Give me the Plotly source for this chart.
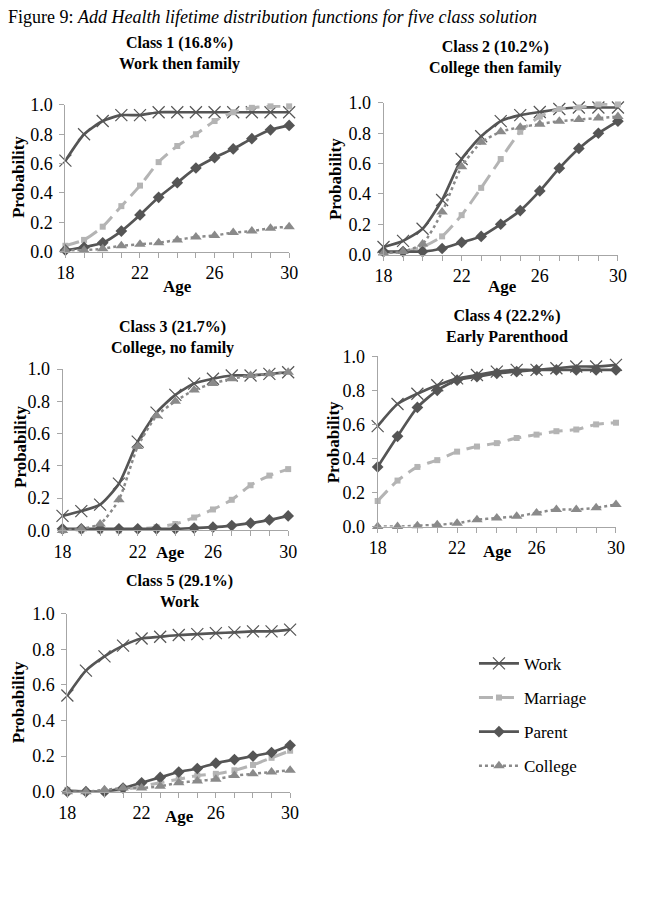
import plotly.graph_objects as go

W, H = 660, 921

ages = list(range(18, 31))
series_names = ["Work", "Marriage", "Parent", "College"]

# Class 1
c1_work = [0.62, 0.80, 0.89, 0.93, 0.93, 0.95, 0.95, 0.95, 0.95, 0.95, 0.95, 0.95, 0.95]
c1_marriage = [0.04, 0.08, 0.17, 0.31, 0.45, 0.61, 0.72, 0.80, 0.89, 0.95, 0.98, 0.99, 0.99]
c1_parent = [0.01, 0.03, 0.06, 0.14, 0.25, 0.37, 0.47, 0.57, 0.64, 0.70, 0.77, 0.83, 0.86]
c1_college = [0.01, 0.01, 0.02, 0.04, 0.05, 0.06, 0.08, 0.10, 0.11, 0.13, 0.14, 0.16, 0.17]
# Class 2
c2_work = [0.05, 0.09, 0.17, 0.36, 0.63, 0.78, 0.88, 0.92, 0.94, 0.96, 0.97, 0.97, 0.97]
c2_marriage = [0.01, 0.02, 0.05, 0.12, 0.26, 0.44, 0.63, 0.81, 0.91, 0.96, 0.97, 0.99, 0.99]
c2_parent = [0.02, 0.02, 0.02, 0.04, 0.08, 0.12, 0.20, 0.29, 0.42, 0.57, 0.70, 0.80, 0.88]
c2_college = [0.01, 0.02, 0.07, 0.28, 0.58, 0.74, 0.81, 0.84, 0.86, 0.88, 0.89, 0.90, 0.91]
# Class 3
c3_work = [0.09, 0.12, 0.16, 0.29, 0.55, 0.73, 0.84, 0.91, 0.94, 0.96, 0.96, 0.97, 0.98]
c3_marriage = [0.00, 0.00, 0.00, 0.00, 0.01, 0.02, 0.04, 0.08, 0.13, 0.19, 0.28, 0.34, 0.38]
c3_parent = [0.01, 0.01, 0.01, 0.01, 0.01, 0.01, 0.01, 0.015, 0.02, 0.03, 0.045, 0.065, 0.09]
c3_college = [0.00, 0.01, 0.04, 0.19, 0.52, 0.71, 0.80, 0.87, 0.91, 0.94, 0.96, 0.97, 0.98]
# Class 4
c4_work = [0.59, 0.72, 0.78, 0.83, 0.87, 0.89, 0.91, 0.92, 0.92, 0.93, 0.94, 0.94, 0.95]
c4_marriage = [0.15, 0.27, 0.35, 0.39, 0.44, 0.47, 0.49, 0.52, 0.54, 0.56, 0.57, 0.60, 0.61]
c4_parent = [0.35, 0.53, 0.70, 0.80, 0.86, 0.88, 0.90, 0.91, 0.92, 0.92, 0.92, 0.92, 0.92]
c4_college = [0.00, 0.00, 0.005, 0.01, 0.02, 0.04, 0.05, 0.06, 0.08, 0.10, 0.10, 0.11, 0.13]
# Class 5
c5_work = [0.54, 0.68, 0.76, 0.82, 0.86, 0.87, 0.88, 0.885, 0.89, 0.895, 0.90, 0.90, 0.91]
c5_marriage = [0.01, 0.00, 0.00, 0.01, 0.03, 0.05, 0.07, 0.09, 0.10, 0.12, 0.15, 0.19, 0.23]
c5_parent = [0.00, 0.00, 0.00, 0.02, 0.05, 0.08, 0.11, 0.13, 0.16, 0.18, 0.20, 0.22, 0.26]
c5_college = [0.00, 0.00, 0.01, 0.02, 0.02, 0.03, 0.05, 0.06, 0.07, 0.09, 0.10, 0.11, 0.12]

class_titles = [
    "Class 1 (16.8%)<br>Work then family",
    "Class 2 (10.2%)<br>College then family",
    "Class 3 (21.7%)<br>College, no family",
    "Class 4 (22.2%)<br>Early Parenthood",
    "Class 5 (29.1%)<br>Work",
]
class_data = [
    [c1_work, c1_marriage, c1_parent, c1_college],
    [c2_work, c2_marriage, c2_parent, c2_college],
    [c3_work, c3_marriage, c3_parent, c3_college],
    [c4_work, c4_marriage, c4_parent, c4_college],
    [c5_work, c5_marriage, c5_parent, c5_college],
]
x_tick_labels = ["18", "", "", "", "22", "", "", "", "26", "", "", "", "30"]

FONT = "Liberation Serif"
DARK = "#555555"
LIGHT = "#b4b4b4"
MID = "#8a8a8a"
AXIS = "#a6a6a6"

styles = {
    "Work": dict(line=dict(color=DARK, width=2.7, shape="spline", smoothing=0.6),
                 marker=dict(symbol="x-thin", size=12, line=dict(color=DARK, width=1.2), color=DARK)),
    "Marriage": dict(line=dict(color=LIGHT, width=3, dash="14px,7px", shape="spline", smoothing=0.6),
                     marker=dict(symbol="square", size=6, color=LIGHT)),
    "Parent": dict(line=dict(color=DARK, width=2.7, shape="spline", smoothing=0.6),
                   marker=dict(symbol="diamond", size=9, color=DARK)),
    "College": dict(line=dict(color=MID, width=2.5, dash="dot", shape="spline", smoothing=0.6),
                    marker=dict(symbol="triangle-up", size=10, color=MID)),
}

# panel boxes in pixels: x0, x1, y0(top), y1(bottom)
boxes = [
    (58, 288, 97, 247),
    (385, 626, 95, 250),
    (55, 287, 367, 532),
    (379, 624, 354, 528),
    (60, 289, 617, 799),
]
title_pos = [(175, 44), (500, 49), (168, 335), (512, 324), (175, 594)]
ylab_pos = [(10, 171), (335, 173), (12, 447), (333, 442), (10, 708)]
xlab_pos = [(173, 283), (507, 283), (166, 555), (502, 554), (175, 824)]


def px(x):
    return x / W


def py(y):
    return 1 - y / H


fig = go.Figure()
layout = dict(
    width=W, height=H, margin=dict(l=0, r=0, t=0, b=0),
    paper_bgcolor="white", plot_bgcolor="white",
    font=dict(family=FONT, color="black"),
    showlegend=True,
)
annotations = []

for i, (box, data) in enumerate(zip(boxes, class_data)):
    k = "" if i == 0 else str(i + 1)
    x0, x1, y0, y1 = box
    layout["xaxis" + k] = dict(
        domain=[px(x0), px(x1)], anchor="y" + k, range=[18, 30],
        tickvals=ages, ticktext=x_tick_labels, ticks="outside", ticklen=5,
        tickcolor=AXIS, showline=True, linecolor=AXIS, linewidth=1,
        showgrid=False, zeroline=False, tickfont=dict(size=18, family=FONT, color="black"),
    )
    layout["yaxis" + k] = dict(
        domain=[py(y1), py(y0)], anchor="x" + k, range=[0, 1],
        tickvals=[0, 0.2, 0.4, 0.6, 0.8, 1.0], tickformat=".1f", ticks="outside", ticklen=5,
        tickcolor=AXIS, showline=True, linecolor=AXIS, linewidth=1, ticklabelstandoff=3,
        showgrid=False, zeroline=False, tickfont=dict(size=18, family=FONT, color="black"),
    )
    for name, vals in zip(series_names, data):
        st = styles[name]
        fig.add_trace(go.Scatter(
            x=ages, y=vals, mode="lines+markers", name=name,
            line=st["line"], marker=st["marker"], cliponaxis=False,
            xaxis="x" + k, yaxis="y" + k, showlegend=(i == 0),
            legendgroup=name,
        ))
    tx, ty = title_pos[i]
    annotations.append(dict(x=px(tx), y=py(ty), xref="paper", yref="paper",
                            text="<b>" + class_titles[i].replace("<br>", "</b><br><b>") + "</b>",
                            showarrow=False, font=dict(size=16, family=FONT, color="black"),
                            xanchor="center", yanchor="middle"))
    lx, ly = ylab_pos[i]
    annotations.append(dict(x=px(lx), y=py(ly), xref="paper", yref="paper",
                            text="<b>Probability</b>", textangle=-90, showarrow=False,
                            font=dict(size=17, family=FONT, color="black"),
                            xanchor="center", yanchor="middle"))
    ax, ay = xlab_pos[i]
    annotations.append(dict(x=px(ax), y=py(ay), xref="paper", yref="paper",
                            text="<b>Age</b>", showarrow=False,
                            font=dict(size=17, family=FONT, color="black"),
                            xanchor="center", yanchor="middle"))

annotations.append(dict(x=px(-3), y=py(7), xref="paper", yref="paper",
                        text="Figure 9: <i>Add Health lifetime distribution functions for five class solution</i>",
                        showarrow=False, font=dict(size=18, family=FONT, color="black"),
                        xanchor="left", yanchor="middle"))

layout["annotations"] = annotations
layout["legend"] = dict(x=px(478), y=py(650), xanchor="left", yanchor="top",
                        font=dict(size=17, family=FONT, color="black"),
                        tracegroupgap=9, bgcolor="rgba(0,0,0,0)", itemwidth=40)
fig.update_layout(**layout)
fig.write_html("out.html")
